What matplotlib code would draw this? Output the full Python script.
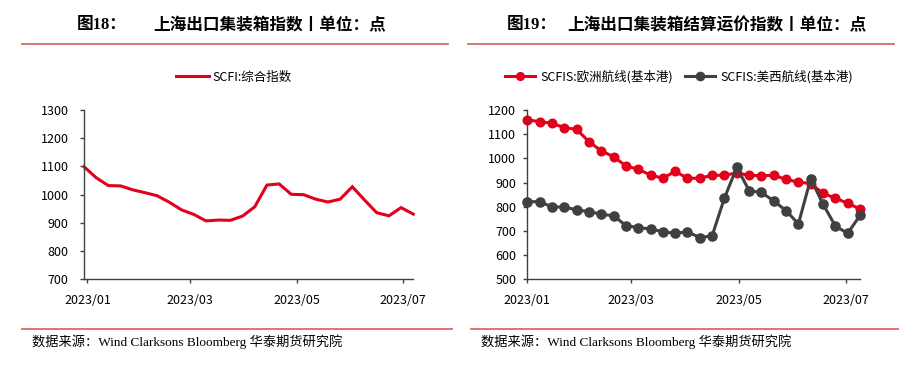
"""Two-panel chart: SCFI composite index and SCFIS route indices, H1 2023."""

import matplotlib as mpl

mpl.use("Agg")
import matplotlib.dates as mdates
import matplotlib.pyplot as plt
import numpy as np
import pandas as pd
from matplotlib.lines import Line2D

plt.rcParams["font.family"] = ["Noto Sans CJK SC", "DejaVu Sans"]

# ---- data ----
scfi_dates = pd.date_range("2022-12-30", periods=28, freq="7D")
scfi = [1099, 1060, 1032, 1031, 1017, 1007, 996, 973, 946, 930, 907, 910,
        909, 924, 957, 1034, 1038, 1001, 1000, 984, 974, 984, 1028, 981,
        936, 925, 954, 931]

scfis_dates = pd.date_range("2023-01-01", periods=28, freq="7D")
scfis_eu = [1159, 1152, 1145, 1127, 1120, 1069, 1031, 1007, 969, 955, 931,
            918, 946, 918, 918, 930, 930, 940, 930, 928, 930, 913, 902, 896,
            855, 836, 814, 791]
scfis_us = [821, 821, 799, 799, 787, 780, 769, 763, 722, 714, 708, 697, 690,
            697, 672, 680, 836, 963, 867, 859, 824, 784, 729, 916, 811, 720,
            690, 764]

tick_dates = pd.to_datetime(["2023-01-01", "2023-03-01", "2023-05-01", "2023-07-01"])

RED = "#E2001A"
DARK = "#404040"
RULE = "#D96A6A"
AXC = "#404040"

W, H = 910, 366
fig = plt.figure(figsize=(W / 100, H / 100), dpi=100)


def fx(px):
    return px / W


def fy(py):
    return 1 - py / H


def style_axes(ax, ypad):
    for s in ("top", "right"):
        ax.spines[s].set_visible(False)
    for s in ("left", "bottom"):
        ax.spines[s].set_color(AXC)
        ax.spines[s].set_linewidth(1.0)
    ax.set_xticks(tick_dates)
    ax.xaxis.set_major_formatter(mdates.DateFormatter("%Y/%m"))
    ax.tick_params(axis="both", direction="out", length=3, width=1,
                   color=AXC, labelsize=9, labelcolor="#000000")
    ax.tick_params(axis="y", pad=ypad)
    ax.tick_params(axis="x", pad=7.5)


# ---- left panel ----
ax0 = fig.add_axes([fx(84), fy(279.3), fx(413.3 - 84), fy(110) - fy(279.3)])
ax0.plot(scfi_dates, scfi, color=RED, lw=2.2, label="SCFI:综合指数",
         solid_joinstyle="miter", clip_on=False)
ax0.set_ylim(700, 1300)
ax0.set_yticks(np.arange(700, 1301, 100))
ax0.set_xlim(scfi_dates[0], scfi_dates[-1])
style_axes(ax0, ypad=8)
ax0.legend(loc="center", bbox_to_anchor=(fx(234), fy(77)),
           bbox_transform=fig.transFigure, frameon=False, fontsize=9,
           handlelength=2.6, handletextpad=0.3, borderpad=0, borderaxespad=0)

# ---- right panel ----
ax1 = fig.add_axes([fx(527.3), fy(279.3), fx(860 - 527.3), fy(110) - fy(279.3)])
ax1.plot(scfis_dates, scfis_eu, color=RED, lw=2.2, marker="o", ms=6.2,
         label="SCFIS:欧洲航线(基本港)", clip_on=False)
ax1.plot(scfis_dates, scfis_us, color=DARK, lw=2.2, marker="o", ms=6.6,
         label="SCFIS:美西航线(基本港)", clip_on=False)
ax1.set_ylim(500, 1200)
ax1.set_yticks(np.arange(500, 1201, 100))
ax1.set_xlim(scfis_dates[0], scfis_dates[-1])
style_axes(ax1, ypad=5)
ax1.legend(loc="center", bbox_to_anchor=(fx(679), fy(77)),
           bbox_transform=fig.transFigure, frameon=False, fontsize=9, ncol=2,
           handlelength=2.4, handletextpad=0.45, columnspacing=0.9,
           borderpad=0, borderaxespad=0, markerscale=0.9)

# ---- headers, rules and source notes ----
title_font = ["Liberation Serif", "Noto Sans CJK SC"]
for x_fig, x_txt, num, txt in [
    (77, 153, "图18：", "上海出口集装箱指数丨单位：点"),
    (507, 567, "图19：", "上海出口集装箱结算运价指数丨单位：点"),
]:
    fig.text(fx(x_fig), fy(25), num, family=title_font, weight="bold",
             fontsize=12, ha="left", va="center")
    fig.text(fx(x_txt), fy(25), txt, weight="bold", fontsize=12,
             ha="left", va="center")

for x0, x1 in [(22, 448), (468, 894)]:
    fig.add_artist(Line2D([fx(x0), fx(x1)], [fy(44), fy(44)], color=RULE, lw=1.3))
for x0, x1 in [(22, 452), (471, 898)]:
    fig.add_artist(Line2D([fx(x0), fx(x1)], [fy(329), fy(329)], color=RULE, lw=1.3))

source = "数据来源：Wind Clarksons Bloomberg 华泰期货研究院"
for x in (32, 481):
    fig.text(fx(x), fy(342), source, family=title_font, fontsize=9.5,
             ha="left", va="center")

fig.savefig("out.png", dpi=100)
plt.close(fig)
